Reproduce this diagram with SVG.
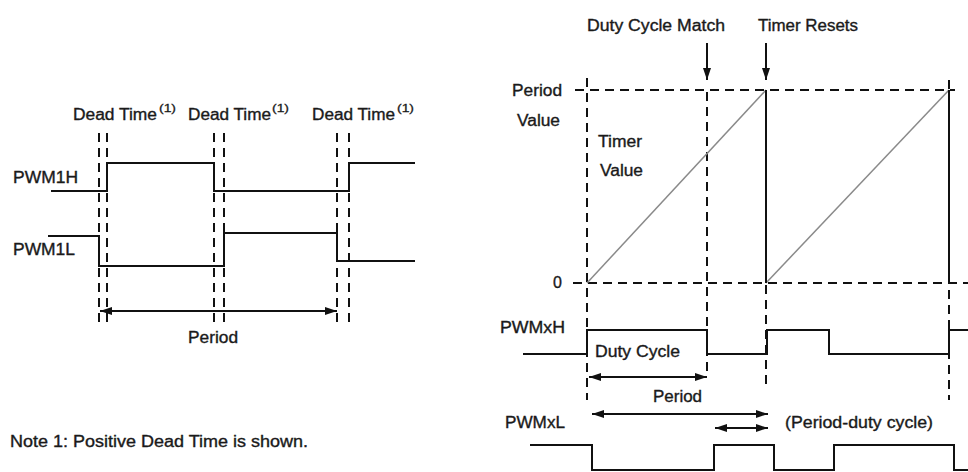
<svg xmlns="http://www.w3.org/2000/svg" width="968" height="472" viewBox="0 0 968 472">
<defs>
<marker id="ah" viewBox="0 0 12 8" refX="12" refY="4" markerWidth="12" markerHeight="8" markerUnits="userSpaceOnUse" orient="auto-start-reverse">
<path d="M0,0 L12,4 L0,8 z" fill="#111"/>
</marker>
<style>
.w{fill:none;stroke:#111;stroke-width:2}
.d{fill:none;stroke:#111;stroke-width:2;stroke-dasharray:9,6}
.r{fill:none;stroke:#8a8a8a;stroke-width:1.5}
.a{fill:none;stroke:#111;stroke-width:2;marker-end:url(#ah)}
.b{fill:none;stroke:#111;stroke-width:2;marker-start:url(#ah);marker-end:url(#ah)}
.t{font-family:"Liberation Sans",Arial,sans-serif;font-size:16px;fill:#1a1a1a;stroke:#1a1a1a;stroke-width:0.35}
.s{font-family:"Liberation Sans",Arial,sans-serif;font-size:11px;fill:#1a1a1a;stroke:#1a1a1a;stroke-width:0.3}
</style>
</defs>
<rect width="968" height="472" fill="#fff"/>

<!-- Left diagram -->
<g id="left-deadtime-guides">
<line class="d" x1="99" y1="133" x2="99" y2="323"/>
<line class="d" x1="107" y1="133" x2="107" y2="323"/>
<line class="d" x1="214" y1="133" x2="214" y2="323"/>
<line class="d" x1="224" y1="133" x2="224" y2="323"/>
<line class="d" x1="337" y1="133" x2="337" y2="323"/>
<line class="d" x1="349" y1="133" x2="349" y2="323"/>
</g>
<g id="deadtime-labels">
<text class="t" x="73" y="120" textLength="84" lengthAdjust="spacingAndGlyphs">Dead Time</text>
<text class="s" x="159" y="112" textLength="17" lengthAdjust="spacingAndGlyphs">(1)</text>
<text class="t" x="188" y="120" textLength="83" lengthAdjust="spacingAndGlyphs">Dead Time</text>
<text class="s" x="272" y="112" textLength="17" lengthAdjust="spacingAndGlyphs">(1)</text>
<text class="t" x="312" y="120" textLength="83" lengthAdjust="spacingAndGlyphs">Dead Time</text>
<text class="s" x="397" y="112" textLength="17" lengthAdjust="spacingAndGlyphs">(1)</text>
</g>
<g id="pwm1h">
<text class="t" x="13" y="183" textLength="65" lengthAdjust="spacingAndGlyphs">PWM1H</text>
<polyline class="w" points="51,191 107,191 107,163 214,163 214,191 349,191 349,163 415,163"/>
</g>
<g id="pwm1l">
<text class="t" x="13" y="255" textLength="62" lengthAdjust="spacingAndGlyphs">PWM1L</text>
<polyline class="w" points="48,236 99,236 99,266 224,266 224,233 337,233 337,261 415,261"/>
</g>
<g id="left-period">
<line class="b" x1="100" y1="311" x2="337" y2="311"/>
<text class="t" x="188" y="343" textLength="50" lengthAdjust="spacingAndGlyphs">Period</text>
</g>
<g id="note">
<text class="t" x="10" y="447" textLength="298" lengthAdjust="spacingAndGlyphs">Note 1: Positive Dead Time is shown.</text>
</g>

<!-- Right diagram -->
<g id="right-guides">
<line class="d" x1="575" y1="90" x2="955" y2="90"/>
<line class="d" x1="573" y1="283" x2="968" y2="283"/>
<line class="d" x1="587" y1="78" x2="587" y2="400"/>
<line class="d" x1="707" y1="92" x2="707" y2="372"/>
<line class="d" x1="766" y1="285" x2="766" y2="387"/>
<line class="d" x1="949" y1="80" x2="949" y2="400"/>
</g>
<g id="timer-ramp">
<line class="r" x1="587" y1="283" x2="766" y2="90"/>
<line class="r" x1="766" y1="283" x2="949" y2="90"/>
<line class="w" x1="766" y1="90" x2="766" y2="283"/>
<line class="w" x1="949" y1="90" x2="949" y2="283"/>
</g>
<g id="axis-labels">
<text class="t" x="512" y="96" textLength="50" lengthAdjust="spacingAndGlyphs">Period</text>
<text class="t" x="517" y="126" textLength="43" lengthAdjust="spacingAndGlyphs">Value</text>
<text class="t" x="598" y="147" textLength="44" lengthAdjust="spacingAndGlyphs">Timer</text>
<text class="t" x="600" y="176" textLength="43" lengthAdjust="spacingAndGlyphs">Value</text>
<text class="t" x="553" y="288">0</text>
</g>
<g id="duty-cycle-match">
<text class="t" x="587" y="31" textLength="138" lengthAdjust="spacingAndGlyphs">Duty Cycle Match</text>
<line class="a" x1="707" y1="43" x2="707" y2="80"/>
</g>
<g id="timer-resets">
<text class="t" x="758" y="31" textLength="100" lengthAdjust="spacingAndGlyphs">Timer Resets</text>
<line class="a" x1="766" y1="43" x2="766" y2="80"/>
</g>
<g id="pwmxh">
<text class="t" x="500" y="333" textLength="65" lengthAdjust="spacingAndGlyphs">PWMxH</text>
<polyline class="w" points="523,354 587,354 587,330 707,330 707,354 767,354 767,330 829,330 829,354 949,354 949,330 968,330"/>
</g>
<g id="pwmxl">
<text class="t" x="505" y="428" textLength="60" lengthAdjust="spacingAndGlyphs">PWMxL</text>
<polyline class="w" points="530,445 592,445 592,470 714,470 714,445 774,445 774,470 834,470 834,445 954,445 954,470 968,470"/>
</g>
<g id="connectors">
<line class="b" x1="589" y1="377" x2="707" y2="377"/>
<line class="b" x1="592" y1="414" x2="768" y2="414"/>
<line class="b" x1="715" y1="428" x2="768" y2="428"/>
</g>
<g id="measure-labels">
<text class="t" x="595" y="357" textLength="85" lengthAdjust="spacingAndGlyphs">Duty Cycle</text>
<text class="t" x="653" y="402" textLength="49" lengthAdjust="spacingAndGlyphs">Period</text>
<text class="t" x="785" y="428" textLength="148" lengthAdjust="spacingAndGlyphs">(Period-duty cycle)</text>
</g>
</svg>
